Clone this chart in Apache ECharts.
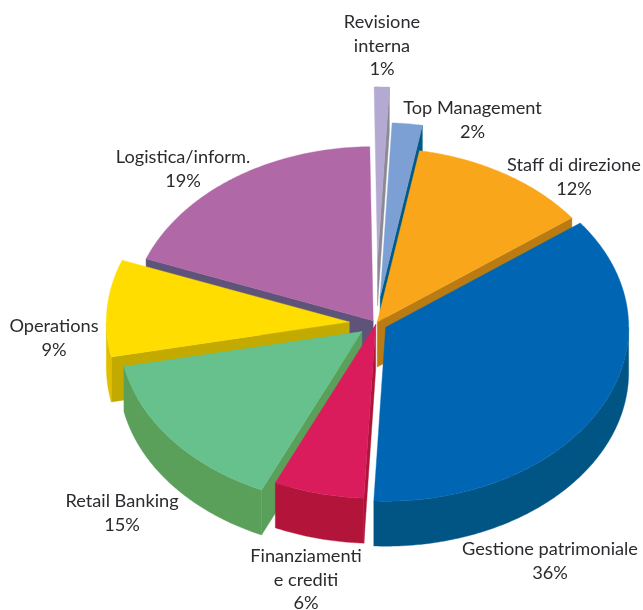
<!DOCTYPE html>
<html>
<head>
<meta charset="utf-8">
<style>html,body{margin:0;padding:0;background:#fff}#chart{width:643px;height:610px}</style>
<script src="https://cdn.jsdelivr.net/npm/echarts@6/dist/echarts.min.js"></script>
</head>
<body>
<div id="chart"></div>
<script>
// Shares per department, clockwise from twelve o'clock.
const categories = ['Revisione\ninterna', 'Top Management', 'Staff di direzione', 'Gestione patrimoniale',
  'Finanziamenti\ne crediti', 'Retail Banking', 'Operations', 'Logistica/inform.'];
const shares = [1, 2, 12, 36, 6, 15, 9, 19];

// Slice styling, same order as above.
const explode = [0.36, 0.155, 0.01, 0.045, 0.005, 0.074, 0.11, 0.02];
const topColors = ['#B3A9D3', '#7C9FD4', '#FAA61A', '#0066B3', '#DA1C5C', '#66C18C', '#FFDD00', '#B168A6'];
const edgeColors = ['#8C8993', '#005A87', '#BA7C12', '#005585', '#AE1338', '#5AA05A', '#C2AA00', '#5E5379'];
const rimColors = ['#8C8993', '#005A87', '#BA7C12', '#005585', '#B21539', '#5AA05A', '#E0BE00', '#5E5379'];

// Back-to-front painting order for the tilted pie.
const paintOrder = [0, 1, 7, 2, 6, 5, 4, 3];

// Centre of each label block.
const labelAnchors = [[382, 46], [472.5, 120], [574, 177], [550, 561], [306, 580], [122, 513], [54, 338], [183, 169]];

// Projection of the tilted disc.
const centre = [376, 323.5], rx = 243, ry = 174, depth = 45, startAngle = -0.8;
const rad = d => d * Math.PI / 180;
const onDisc = (deg, ox, oy) => [ox + rx * Math.sin(rad(deg)), oy - ry * Math.cos(rad(deg))];

const total = shares.reduce((a, b) => a + b, 0);
const bounds = [];
shares.reduce((acc, v, i) => {
  const next = acc + v / total * 360;
  bounds[i] = [acc, next];
  return next;
}, startAngle);

function arc(from, to, ox, oy) {
  const pts = [];
  const n = Math.max(1, Math.ceil((to - from) / 0.5));
  for (let k = 0; k <= n; k++) pts.push(onDisc(from + (to - from) * k / n, ox, oy));
  return pts;
}
const poly = (points, fill) => ({ type: 'polygon', shape: { points }, style: { fill, stroke: fill, lineWidth: 0.4 } });
const wall = (p, q, fill) => poly([p, q, [q[0], q[1] + depth], [p[0], p[1] + depth]], fill);

function renderSlice(params, api) {
  const i = api.value(0);
  const [a, b] = bounds[i];
  const mid = (a + b) / 2;
  const [ox, oy] = [
    centre[0] + explode[i] * rx * Math.sin(rad(mid)),
    centre[1] - explode[i] * ry * Math.cos(rad(mid))
  ];
  const apex = [ox, oy];
  const children = [];
  // Radial walls face the viewer only on one side of the disc.
  if (a > 180 && a < 360) children.push(wall(apex, onDisc(a, ox, oy), edgeColors[i]));
  if (b > 0 && b < 180) children.push(wall(apex, onDisc(b, ox, oy), edgeColors[i]));
  // Outer wall along the front half of the rim.
  const from = Math.max(a, 90), to = Math.min(b, 270);
  if (to > from) {
    const upper = arc(from, to, ox, oy);
    const lower = upper.map(p => [p[0], p[1] + depth]).reverse();
    children.push(poly(upper.concat(lower), rimColors[i]));
  }
  children.push(poly([apex].concat(arc(a, b, ox, oy)), topColors[i]));
  return { type: 'group', children };
}

function renderLabel(params, api) {
  const i = api.value(0);
  return {
    type: 'text',
    x: labelAnchors[i][0],
    y: labelAnchors[i][1],
    style: {
      text: categories[i] + '\n' + shares[i] + '%',
      fontFamily: 'Lato',
      fontSize: 18.2,
      lineHeight: 23.5,
      fill: '#2B2A2E',
      align: 'center',
      verticalAlign: 'middle'
    }
  };
}

const chart = echarts.init(document.getElementById('chart'), null, { renderer: 'canvas' });
chart.setOption({
  animation: false,
  backgroundColor: '#fff',
  series: [
    {
      type: 'custom',
      coordinateSystem: 'none',
      silent: true,
      renderItem: renderSlice,
      data: paintOrder.map(i => ({ name: categories[i], value: [i, shares[i]] }))
    },
    {
      type: 'custom',
      coordinateSystem: 'none',
      silent: true,
      z: 5,
      renderItem: renderLabel,
      data: categories.map((c, i) => ({ name: c, value: [i, shares[i]] }))
    }
  ]
});
</script>
</body>
</html>
